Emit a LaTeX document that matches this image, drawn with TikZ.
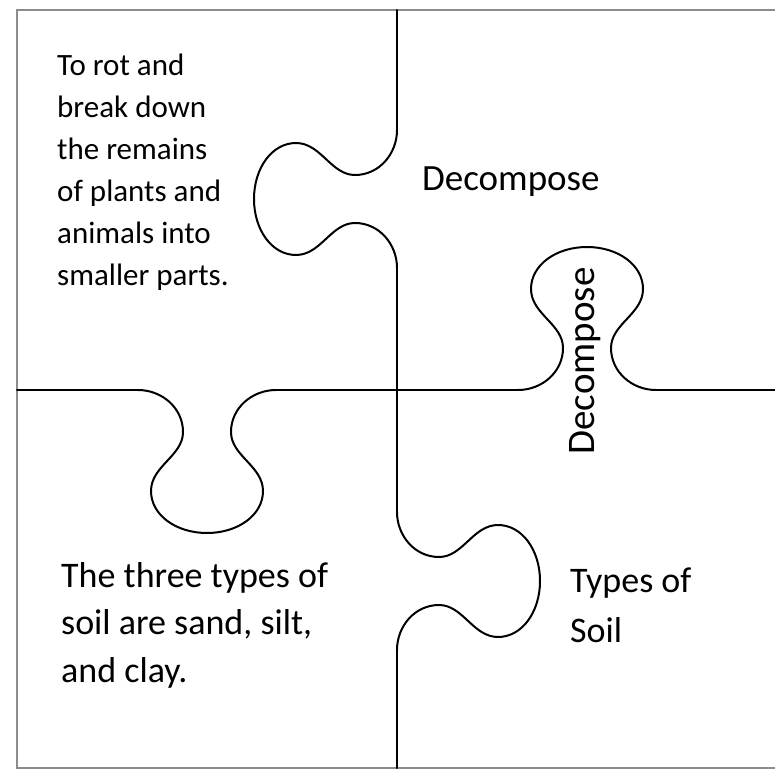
\documentclass[tikz,border=0pt]{standalone}
\usepackage{fontspec}
\setmainfont{Carlito}
\tikzset{
  cut/.style={line width=2pt, black, line cap=round},
  frame/.style={line width=2pt, black!45},
  lbl/.style={anchor=base west, inner sep=0pt, align=left},
  knob/.pic={\draw[cut] (0,0) .. controls (24,0) and (45,18) .. (45,42)
      .. controls (45,66) and (13,76) .. (13,101)
      .. controls (13,125) and (38,143) .. (69,143)
      .. controls (100,143) and (125,125) .. (125,101)
      .. controls (125,76) and (93,66) .. (93,42)
      .. controls (93,18) and (114,0) .. (138,0);}
}
\begin{document}
\begin{tikzpicture}[x=1pt,y=-1pt]
\useasboundingbox (0,0) rectangle (775,770);
% outer frame (no right side)
\draw[frame] (775,10) -- (17,10) -- (17,768) -- (775,768);
% vertical cut
\coordinate (v0) at (397,10);
\coordinate (v1) at (397,130);
\coordinate (v2) at (397,268);
\coordinate (v3) at (397,512);
\coordinate (v4) at (397,650);
\coordinate (v5) at (397,768);
\draw[cut] (v0) -- (v1) (v2) -- (v3) (v4) -- (v5);
% horizontal cut
\coordinate (h0) at (17,390);
\coordinate (h1) at (138,390);
\coordinate (h2) at (276,390);
\coordinate (h3) at (518,390);
\coordinate (h4) at (656,390);
\coordinate (h5) at (775,390);
\draw[cut] (h0) -- (h1) (h2) -- (h3) (h4) -- (h5);
% knobs
\begin{scope}[shift={(397,130)}, x={(0pt,-1pt)}, y={(-1pt,0pt)}]
  \pic (k1) {knob};
\end{scope}
\begin{scope}[shift={(518,390)}, x={(1pt,0pt)}, y={(0pt,1pt)}]
  \pic (k2) {knob};
\end{scope}
\begin{scope}[shift={(138,390)}, x={(1pt,0pt)}, y={(0pt,-1pt)}]
  \pic (k3) {knob};
\end{scope}
\begin{scope}[shift={(397,512)}, x={(0pt,-1pt)}, y={(1pt,0pt)}]
  \pic (k4) {knob};
\end{scope}
% texts (multi-line nodes: base = last line)
\node[lbl, font={\fontsize{31}{42}\selectfont}] (t1) at (57,285)
  {To rot and\\break down\\the remains\\of plants and\\animals into\\smaller parts.};
\node[lbl, font={\fontsize{37}{37}\selectfont}] (t2) at (422,190) {Decompose};
\node[anchor=base, inner sep=0pt, rotate=90, font={\fontsize{39}{39}\selectfont}] (t3) at (594,361) {Decompose};
\node[lbl, font={\fontsize{36}{47.5}\selectfont}] (t4) at (61,682)
  {The three types of\\soil are sand, silt,\\and clay.};
\node[lbl, font={\fontsize{36}{50}\selectfont}] (t5) at (570,642)
  {Types of\\Soil};
\end{tikzpicture}
\end{document}
